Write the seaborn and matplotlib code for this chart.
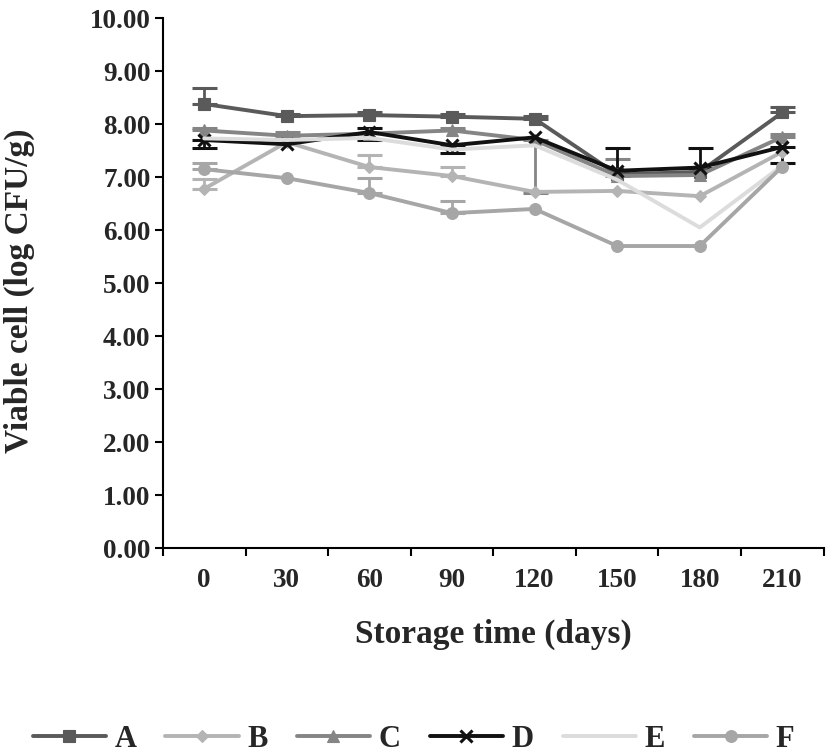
import numpy as np
import pandas as pd
import matplotlib
matplotlib.use("Agg")
import matplotlib.pyplot as plt
import seaborn as sns
from matplotlib.lines import Line2D

days = ["0", "30", "60", "90", "120", "150", "180", "210"]
series_names = ["A", "B", "C", "D", "E", "F"]
A = [8.38, 8.15, 8.17, 8.14, 8.10, 7.05, 7.10, 8.22]
B = [6.78, 7.66, 7.19, 7.02, 6.72, 6.74, 6.64, 7.48]
C = [7.88, 7.78, 7.82, 7.88, 7.70, 7.02, 7.04, 7.76]
D = [7.70, 7.62, 7.85, 7.60, 7.75, 7.12, 7.18, 7.57]
E = [7.73, 7.70, 7.74, 7.52, 7.60, 6.95, 6.05, 7.22]
F = [7.15, 6.98, 6.70, 6.32, 6.40, 5.70, 5.70, 7.20]

# upper / lower error values
A_up = [0.31, 0.05, 0.05, 0.05, 0.05, 0.00, 0.00, 0.10]
B_up = [0.18, 0.00, 0.23, 0.17, 0.00, 0.00, 0.00, 0.00]
C_up = [0.05, 0.08, 0.00, 0.05, 0.00, 0.33, 0.00, 0.05]
C_lo = [0.00, 0.00, 0.00, 0.00, 1.00, 0.00, 0.00, 0.00]
D_up = [0.00, 0.00, 0.08, 0.00, 0.00, 0.43, 0.37, 0.00]
D_lo = [0.15, 0.00, 0.15, 0.15, 0.00, 0.00, 0.00, 0.30]
F_up = [0.11, 0.00, 0.28, 0.23, 0.00, 0.00, 0.00, 0.00]

values = {"A": A, "B": B, "C": C, "D": D, "E": E, "F": F}
err_up = {"A": A_up, "B": B_up, "C": C_up, "D": D_up, "E": [0] * 8, "F": F_up}
err_lo = {"A": [0] * 8, "B": [0] * 8, "C": C_lo, "D": D_lo, "E": [0] * 8, "F": [0] * 8}

colors = {"A": "#5a5a5a", "B": "#b4b4b4", "C": "#858585", "D": "#111111",
          "E": "#dcdcdc", "F": "#a6a6a6"}
markers = {"A": "s", "B": "D", "C": "^", "D": "x", "E": "", "F": "o"}
msizes = {"A": 8, "B": 6.5, "C": 8, "D": 9, "E": 0, "F": 8.5}

sns.set_theme(style="white")
plt.rcParams["font.family"] = ["Liberation Serif", "DejaVu Serif"]
plt.rcParams["font.weight"] = "bold"

fig = plt.figure(figsize=(8.27, 7.54), dpi=100)
ax = fig.add_axes([0.197, 0.273, 0.799, 0.703])

x = np.arange(len(days))
# error bars (drawn under the lines)
for s in series_names:
    up = np.array(err_up[s])
    lo = np.array(err_lo[s])
    mask = (up > 0) | (lo > 0)
    if mask.any():
        ax.errorbar(x[mask], np.array(values[s])[mask],
                    yerr=[lo[mask], up[mask]], fmt="none",
                    ecolor=colors[s], elinewidth=2.0, capsize=9,
                    capthick=2.2, zorder=2)

for s in series_names:
    d = pd.DataFrame({"pos": x, "value": values[s]})
    kw = dict(marker=markers[s], markersize=msizes[s],
              markeredgecolor=colors[s],
              markeredgewidth=2.2 if s == "D" else 0.8) if markers[s] else {}
    sns.lineplot(data=d, x="pos", y="value", color=colors[s], lw=2.8,
                 ax=ax, zorder=3, **kw)

ax.set_xlim(-0.5, len(days) - 0.5)
ax.set_ylim(0, 10)
ax.set_xticks(x)
ax.set_xticklabels(days)
ax.set_xticks(np.arange(-0.5, len(days)), minor=True)
ax.tick_params(axis="x", which="major", length=0, pad=14, labelsize=19.5)
ax.tick_params(axis="x", which="minor", length=6, width=1.5, direction="out",
               color="black", bottom=True)
yt = np.arange(0, 10.01, 1)
ax.set_yticks(yt)
ax.set_yticklabels([f"{v:.2f}" for v in yt])
ax.tick_params(axis="y", which="major", length=6, width=1.5, direction="out",
               color="black", left=True, labelsize=19.5, pad=3)

for side in ["top", "right"]:
    ax.spines[side].set_visible(False)
for side in ["left", "bottom"]:
    ax.spines[side].set_color("black")
    ax.spines[side].set_linewidth(1.5)

ax.set_xlabel("Storage time (days)", fontsize=24, fontweight="bold")
ax.set_ylabel("Viable cell (log CFU/g)", fontsize=24, fontweight="bold")
ax.xaxis.set_label_coords(0.5, -0.134)
ax.yaxis.set_label_coords(-0.193, 0.485)
ax.grid(False)

handles = [Line2D([0], [0], color=colors[s], lw=2.8,
                  marker=markers[s] if markers[s] else None,
                  markersize=msizes[s], markeredgecolor=colors[s],
                  markeredgewidth=2.2 if s == "D" else 0.8)
           for s in series_names]
fig.legend(handles, series_names, loc="center", bbox_to_anchor=(0.5, 0.019),
           ncol=6, frameon=False, handlelength=2.4, handletextpad=0.28,
           columnspacing=0.95, prop={"family": "Liberation Serif",
                                     "weight": "bold", "size": 22})

fig.savefig("out.png", dpi=100)
